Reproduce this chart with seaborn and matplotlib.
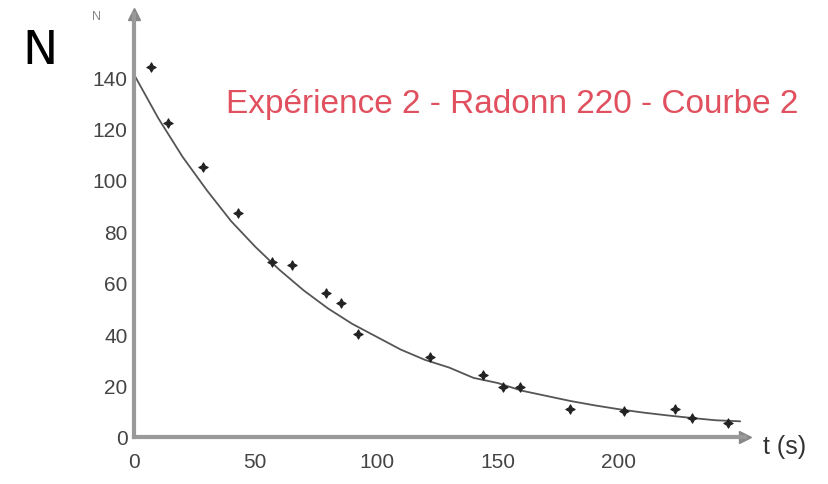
"""Radioactive decay of radon 220: counts vs time with fitted curve."""

import matplotlib.pyplot as plt
import pandas as pd
import seaborn as sns

t_meas = [7, 14, 28.5, 43, 57, 65, 79, 85.5, 92.5, 122, 144, 152, 159, 180, 202, 223, 230, 245]
n_meas = [144, 122, 105, 87, 68, 67, 56, 52, 40, 31, 24, 19.5, 19.5, 11, 10, 11, 7.5, 5.5]

# drawn decay curve
t_curve = [0, 10, 20, 30, 40, 50, 60, 70, 80, 90, 100, 110, 120, 130, 140, 150,
           160, 170, 180, 190, 200, 210, 220, 230, 240, 250]
n_curve = [141, 124, 109, 96, 84, 74, 65, 57, 50, 44, 39, 34, 30, 27, 23, 21,
           18, 16, 14, 12.3, 10.8, 9.5, 8.4, 7.4, 6.5, 6.1]

x_ticks = [0, 50, 100, 150, 200]
y_ticks = [0, 20, 40, 60, 80, 100, 120, 140]

meas = pd.DataFrame({"t": t_meas, "n": n_meas})
curve = pd.DataFrame({"t": t_curve, "n": n_curve})

sns.set_theme(style="white")
plt.rcParams["font.family"] = ["Liberation Sans", "DejaVu Sans"]

fig = plt.figure(figsize=(8.29, 4.85), dpi=100)
ax = fig.add_axes([134 / 829, 1 - 438 / 485, (745 - 134) / 829, (438 - 15) / 485])

sns.lineplot(data=curve, x="t", y="n", ax=ax, color="#555555", linewidth=1.3)
sns.scatterplot(data=meas, x="t", y="n", ax=ax, marker=(4, 1, 0), s=45,
                color="#222222", edgecolor="#222222", linewidth=0.8, zorder=3)

ax.set_xlim(0, 252)
ax.set_ylim(0, 164.5)
ax.set_xticks(x_ticks)
ax.set_yticks(y_ticks)
ax.set_xlabel("")
ax.set_ylabel("")
ax.tick_params(axis="both", labelsize=15, labelcolor="#444444", color="#888888",
               length=3, width=1, direction="inout")
ax.tick_params(axis="x", pad=9)
ax.tick_params(axis="y", pad=3)

for side in ("top", "right"):
    ax.spines[side].set_visible(False)
for side in ("left", "bottom"):
    ax.spines[side].set_color("#999999")
    ax.spines[side].set_linewidth(3)

# axis arrows
ax.plot(1, 0, ">", color="#888888", markersize=8, transform=ax.transAxes, clip_on=False)
ax.plot(0, 1, "^", color="#888888", markersize=8, transform=ax.transAxes, clip_on=False)

fig.text(512 / 829, 1 - 105 / 485, "Expérience 2 - Radonn 220 - Courbe 2",
         color="#e0505f", fontsize=24, ha="center", va="center")
fig.text(763 / 829, 1 - 447 / 485, "t (s)", color="#333333", fontsize=18,
         ha="left", va="center")
fig.text(22 / 829, 1 - 52 / 485, "N", color="black", fontsize=34,
         ha="left", va="center", fontfamily="DejaVu Sans")
fig.text(97 / 829, 1 - 17 / 485, "N", color="#888888", fontsize=9,
         ha="center", va="center")

fig.savefig("out.png", dpi=100, facecolor="white")
